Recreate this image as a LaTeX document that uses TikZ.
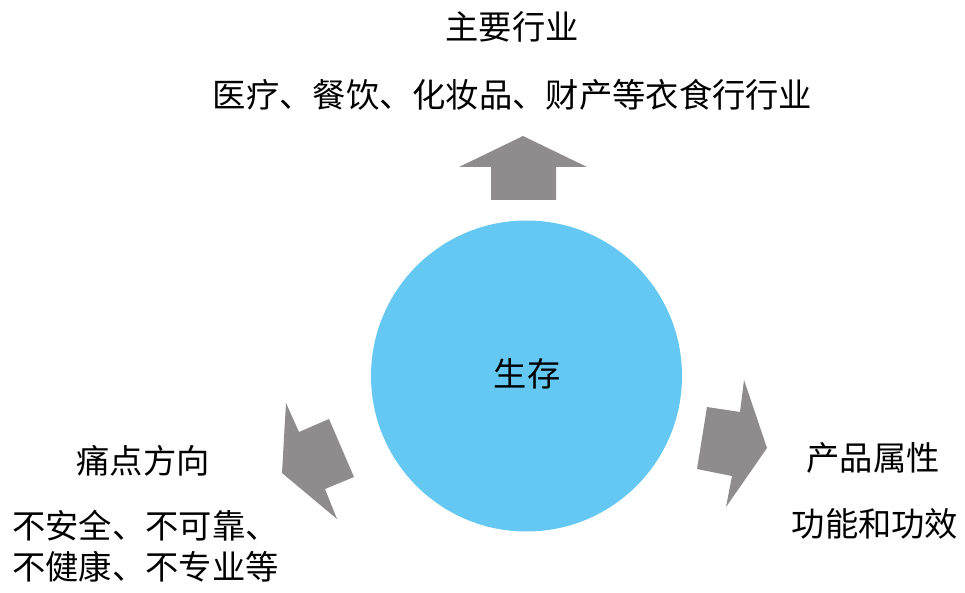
\documentclass[tikz,border=0pt]{standalone}
\usepackage{fontspec}
\newfontfamily\cjk{Noto Sans CJK SC}
\definecolor{circblue}{HTML}{64C8F2}
\definecolor{arrgray}{HTML}{8E8C8D}
\begin{document}
\begin{tikzpicture}[x=1pt,y=-1pt,
  lbl/.style={font=\cjk\fontsize{33.3}{41}\selectfont, inner sep=0pt, anchor=center, text=black},
  arrowshape/.style={fill=arrgray, draw=none}]
\useasboundingbox (0,0) rectangle (965,593);
% central circle
\fill[circblue] (526.5,376) circle (155.5);
\node[lbl] (core) at (527,374) {生存};
% arrows
\fill[arrowshape] (523,136) -- (587,167) -- (556,167) -- (556,200) -- (491,200) -- (491,167) -- (459,167) -- cycle;
\fill[arrowshape] (707,407) -- (740,412) -- (744,380) -- (767,448) -- (726,507) -- (732,476) -- (697,469) -- cycle;
\fill[arrowshape] (286,403) -- (299,432) -- (329,419) -- (354,477) -- (325,489) -- (337,519) -- (282,473) -- cycle;
% top texts
\node[lbl] (toptitle) at (512,27) {主要行业};
\node[lbl] (toptext) at (512.5,95) {医疗、餐饮、化妆品、财产等衣食行行业};
% right texts
\node[lbl] (righttitle) at (873,458) {产品属性};
\node[lbl] (righttext) at (875,524) {功能和功效};
% left texts
\node[lbl] (lefttitle) at (143,461) {痛点方向};
\node[lbl, align=left, anchor=west] (lefttext) at (12,546) {不安全、不可靠、\\不健康、不专业等};
\end{tikzpicture}
\end{document}
